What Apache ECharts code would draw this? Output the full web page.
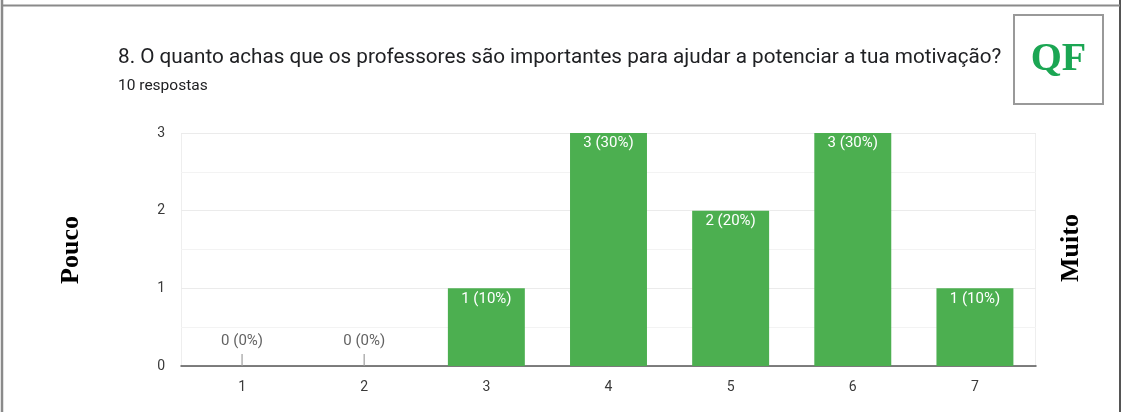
<!DOCTYPE html>
<html>
<head>
<meta charset="utf-8">
<script src="https://cdn.jsdelivr.net/npm/echarts@6/dist/echarts.min.js"></script>
<style>
  html, body { margin: 0; padding: 0; background: #fff; }
  #chart { width: 1122px; height: 412px; }
</style>
</head>
<body>
<div id="chart"></div>
<script>
// Answers on a 1–7 scale (Pouco → Muito)
const categories = ['1', '2', '3', '4', '5', '6', '7'];
const counts = [0, 0, 1, 3, 2, 3, 1];
const yTicks = [0, 1, 2, 3];
const titleText = '8. O quanto achas que os professores são importantes para ajudar a potenciar a tua motivação?';
const subtitleText = '10 respostas';

const total = counts.reduce((a, b) => a + b, 0);
const pctLabel = v => v + ' (' + Math.round(v / total * 100) + '%)';

// Zero-count answers get a small stem with their label instead of a bar
const zeroPoints = counts
  .map((v, i) => (v === 0 ? [categories[i], 0] : null))
  .filter(p => p !== null);

const chart = echarts.init(document.getElementById('chart'), null, { renderer: 'canvas' });

const frameColor = '#8a8a8a';
const textGrey = '#3a3a3a';

chart.setOption({
  animation: false,
  backgroundColor: '#fff',
  title: [
    {
      text: titleText,
      left: 118, top: 47, padding: 0,
      textStyle: { fontFamily: 'Roboto', fontSize: 20.7, fontWeight: 'normal', color: '#202124' }
    },
    {
      text: subtitleText,
      left: 118, top: 78, padding: 0,
      textStyle: { fontFamily: 'Roboto', fontSize: 15.5, fontWeight: 'normal', color: '#202124' }
    }
  ],
  grid: { left: 181, right: 86, top: 133, bottom: 46 },
  xAxis: {
    type: 'category',
    data: categories,
    axisLine: { show: true, lineStyle: { color: '#555', width: 1.5 } },
    axisTick: { show: false },
    axisLabel: { fontFamily: 'Roboto', fontSize: 14, color: textGrey, margin: 14 },
    splitLine: { show: false }
  },
  yAxis: {
    type: 'value',
    min: 0, max: yTicks[yTicks.length - 1], interval: 1,
    axisLine: { show: false },
    axisTick: { show: false },
    axisLabel: { fontFamily: 'Roboto', fontSize: 14, color: textGrey, margin: 16 },
    splitLine: { show: true, lineStyle: { color: '#ebebeb', width: 1 } },
    minorTick: { show: false, splitNumber: 2 },
    minorSplitLine: { show: true, lineStyle: { color: '#f3f3f3', width: 1 } }
  },
  series: [
    {
      type: 'bar',
      data: counts,
      barWidth: '63%',
      itemStyle: { color: '#4caf50' },
      label: {
        show: true,
        position: 'insideTop',
        distance: 3,
        fontFamily: 'Roboto',
        fontSize: 15,
        color: '#fff',
        formatter: p => (p.value > 0 ? pctLabel(p.value) : '')
      },
      z: 2
    },
    {
      type: 'scatter',
      data: zeroPoints,
      symbol: 'rect',
      symbolSize: [1.5, 12],
      symbolOffset: [0, -6],
      itemStyle: { color: '#9e9e9e' },
      label: {
        show: true,
        position: 'top',
        distance: 5,
        fontFamily: 'Roboto',
        fontSize: 15,
        color: textGrey,
        formatter: p => pctLabel(p.value[1])
      },
      z: 3
    }
  ],
  graphic: [
    // outer frame
    { type: 'line', shape: { x1: 2, y1: 0, x2: 2, y2: 412 }, style: { stroke: frameColor, lineWidth: 2.5 } },
    { type: 'line', shape: { x1: 1120, y1: 0, x2: 1120, y2: 412 }, style: { stroke: '#555', lineWidth: 2 } },
    { type: 'line', shape: { x1: 2, y1: 5.5, x2: 1120, y2: 5.5 }, style: { stroke: frameColor, lineWidth: 2 } },
    // plot side borders
    { type: 'line', shape: { x1: 181.5, y1: 133, x2: 181.5, y2: 366 }, style: { stroke: '#eeeeee', lineWidth: 1 } },
    { type: 'line', shape: { x1: 1035.5, y1: 133, x2: 1035.5, y2: 366 }, style: { stroke: '#eeeeee', lineWidth: 1 } },
    // QF badge
    { type: 'rect', shape: { x: 1014, y: 15, width: 89, height: 89 }, style: { fill: '#fff', stroke: '#999', lineWidth: 2 } },
    {
      type: 'text', x: 1058.5, y: 60,
      style: {
        text: 'QF', fill: '#1ba653',
        font: 'bold 40px "Liberation Serif", "DejaVu Serif", serif',
        align: 'center', verticalAlign: 'middle'
      }
    },
    // scale end captions
    {
      type: 'text', x: 71, y: 250, rotation: Math.PI / 2,
      style: {
        text: 'Pouco', fill: '#000',
        font: 'bold 26px "Liberation Serif", "DejaVu Serif", serif',
        align: 'center', verticalAlign: 'middle'
      }
    },
    {
      type: 'text', x: 1071, y: 248, rotation: Math.PI / 2,
      style: {
        text: 'Muito', fill: '#000',
        font: 'bold 26px "Liberation Serif", "DejaVu Serif", serif',
        align: 'center', verticalAlign: 'middle'
      }
    }
  ]
});
</script>
</body>
</html>
